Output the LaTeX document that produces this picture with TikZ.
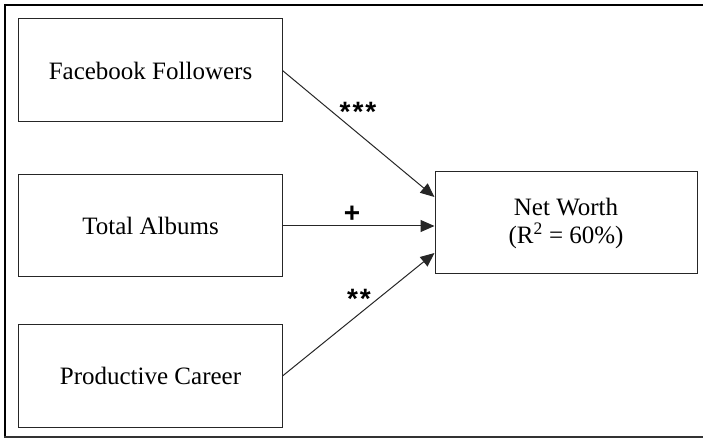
\documentclass[tikz,border=0pt]{standalone}
\usepackage{fontspec}
\setmainfont{Liberation Serif}
\newfontfamily\lsans{Liberation Sans}
\usetikzlibrary{arrows.meta,calc}
\tikzset{
  varbox/.style={draw=black!85, line width=1bp, minimum width=263bp, minimum height=102bp, inner sep=0pt,
     font=\fontsize{25bp}{28bp}\selectfont, align=center},
  path/.style={draw=black!85, line width=1bp, -{Triangle[length=14bp,width=12bp]}},
  sig/.style={font=\lsans\bfseries\fontsize{28bp}{30bp}\selectfont, inner sep=0pt},
  framethick/.style={line width=2.4bp, black},
  framethin/.style={line width=1.4bp, black!80}
}
\begin{document}
\begin{tikzpicture}[x=1bp,y=-1bp]
\useasboundingbox (0,0) rectangle (703,438);
\draw[framethick] (4,5) -- (703,5);
\draw[framethick] (5,4) -- (5,437.5);
\draw[framethin] (4,437) -- (703,437);

\node[varbox, minimum height=103bp] (fb) at (150.5,70.5) {Facebook Followers};
\node[varbox] (ta) at (150.5,226) {Total Albums};
\node[varbox] (pc) at (150.5,376) {Productive Career};
\node[varbox, minimum width=262bp] (nw) at (566,223) {Net Worth\\(R\textsuperscript{2} = 60\%)};

\coordinate (t1) at ($(nw.west)+(0,-26)$);
\coordinate (t3) at ($(nw.west)+(0,30)$);
\draw[path] (fb.east) -- (t1);
\draw[path] (ta.east) -- (ta.east -| nw.west);
\draw[path] (pc.east) -- (t3);

\node[sig] (s1) at (358,112) {*\kern2bp*\kern2bp*};
\node[sig] (s2) at (352,214) {+};
\node[sig] (s3) at (359,299) {*\kern2bp*};
\end{tikzpicture}
\end{document}
